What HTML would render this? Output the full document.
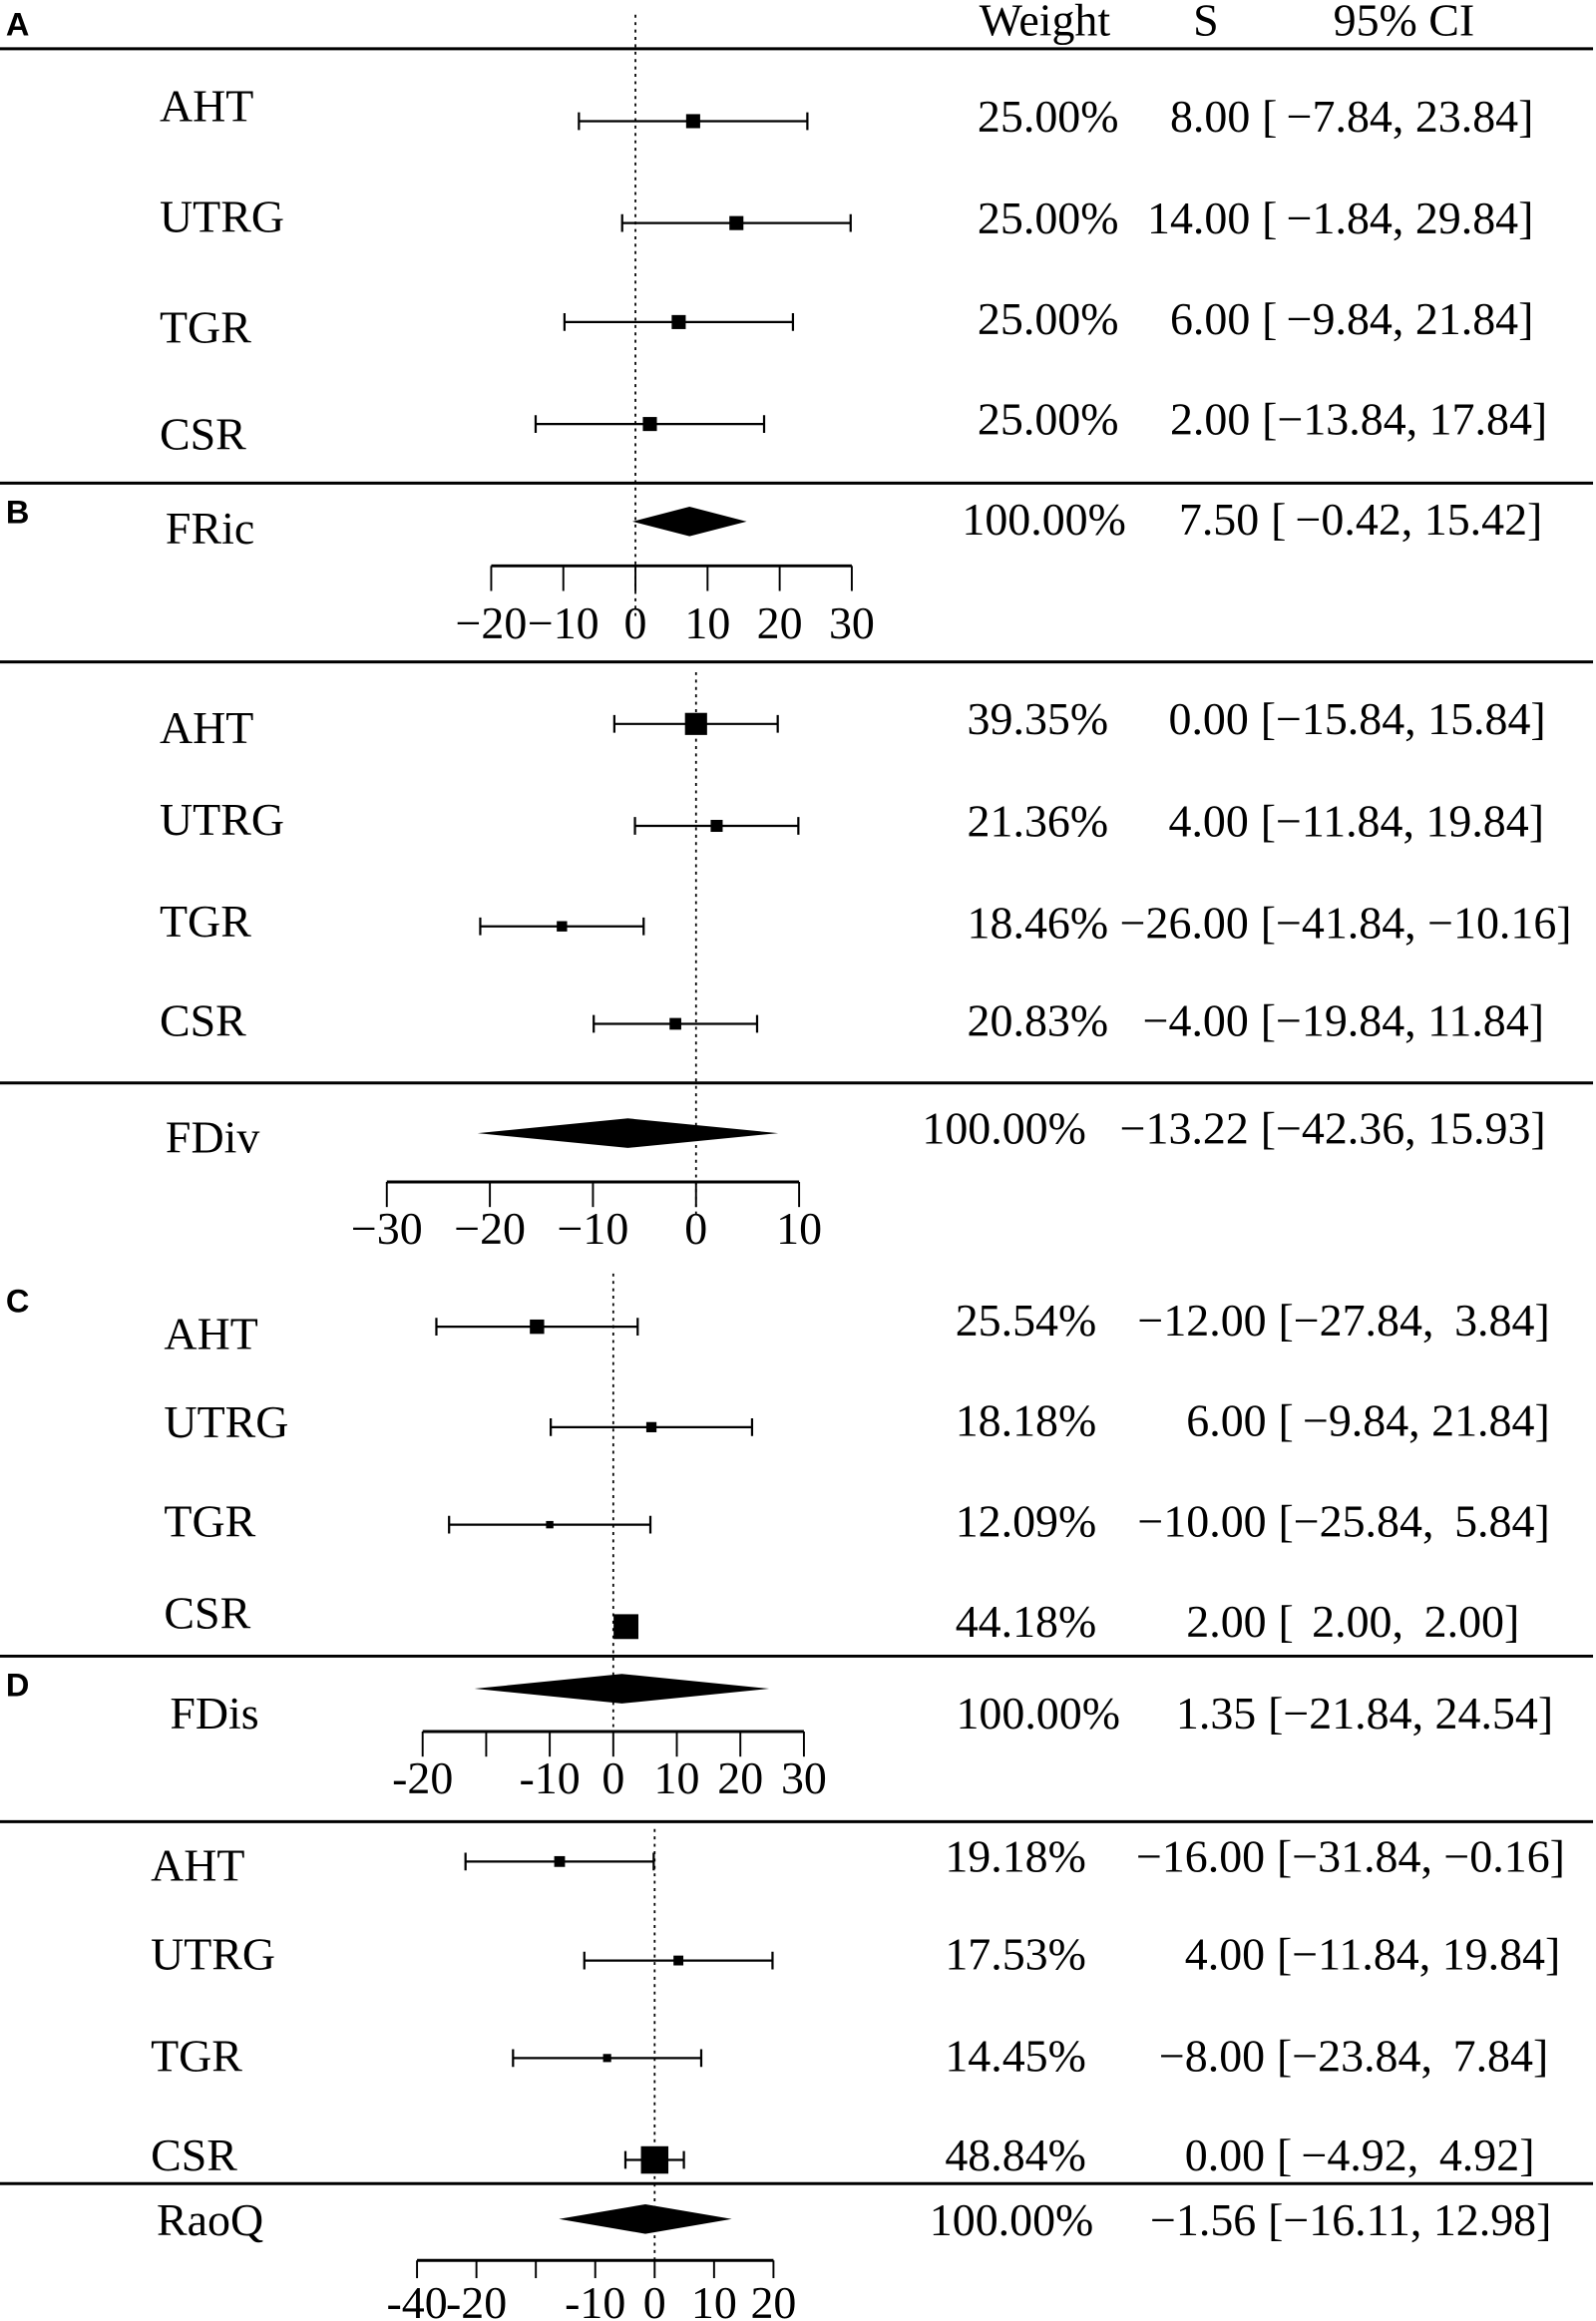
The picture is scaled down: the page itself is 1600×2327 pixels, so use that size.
<!DOCTYPE html>
<html><head><meta charset="utf-8"><style>
html,body{margin:0;padding:0;background:#fff}
svg{display:block}
text{font-family:"Liberation Serif",serif;fill:#000}
.lab{font-family:"Liberation Sans",sans-serif;font-weight:bold;font-size:22px}
</style></head><body>
<svg id="chart" width="1600" height="2327" viewBox="0 0 1080 1571" preserveAspectRatio="none" xmlns="http://www.w3.org/2000/svg">
<text x="707" y="24" font-size="31" text-anchor="middle">Weight</text>
<text x="816" y="24" font-size="31" text-anchor="middle">S</text>
<text x="950" y="24" font-size="31" text-anchor="middle">95% CI</text>
<text class="lab" x="4" y="24">A</text>
<text class="lab" x="4" y="354">B</text>
<text class="lab" x="4" y="888">C</text>
<text class="lab" x="4" y="1148">D</text>
<g id="marks"></g>
</svg>
<script>
// data
const studies = ["AHT","UTRG","TGR","CSR"];
const summaryNames = ["FRic","FDiv","FDis","RaoQ"];
const weights = [[25.00,25.00,25.00,25.00],[39.35,21.36,18.46,20.83],[25.54,18.18,12.09,44.18],[19.18,17.53,14.45,48.84]];
const estimates = [[8.00,14.00,6.00,2.00],[0.00,4.00,-26.00,-4.00],[-12.00,6.00,-10.00,2.00],[-16.00,4.00,-8.00,0.00]];
const lowers = [[-7.84,-1.84,-9.84,-13.84],[-15.84,-11.84,-41.84,-19.84],[-27.84,-9.84,-25.84,2.00],[-31.84,-11.84,-23.84,-4.92]];
const uppers = [[23.84,29.84,21.84,17.84],[15.84,19.84,-10.16,11.84],[3.84,21.84,5.84,2.00],[-0.16,19.84,7.84,4.92]];
const sumEst = [7.50,-13.22,1.35,-1.56];
const sumLo = [-0.42,-42.36,-21.84,-16.11];
const sumHi = [15.42,15.93,24.54,12.98];
const tickValues = [[-20,-10,0,10,20,30],[-30,-20,-10,0,10],[-30,-20,-10,0,10,20,30],[-40,-30,-20,-10,0,10,20]];
const tickLabels = [["\u221220","\u221210","0","10","20","30"],["\u221230","\u221220","\u221210","0","10"],["-20","","-10","0","10","20","30"],["-40","-20","","-10","0","10","20"]];

const P = [
 {zero:430, ppu:4.88, tppu:4.88, rows:[82,151,218,287], labs:[82,157,232,304], txt:[89,158,226,294], labx:108, dTop:10, dBot:420, sumY:353, sumLab:368, sumTxt:362, axY:383, tickLen:17, tickLabY:432, wx:757, sx:846, swx:762, ssx:852, sep:[33,327]},
 {zero:471, ppu:3.49, tppu:6.975, rows:[490,559,627,693], labs:[503,565,634,701], txt:[497,566,635,701], labx:108, dTop:455, dBot:822, sumY:767, sumLab:780, sumTxt:774, axY:800, tickLen:17, tickLabY:842, wx:750, sx:845, swx:735, ssx:845, sep:[448,733]},
 {zero:415, ppu:4.3, tppu:4.3, rows:[898,966,1032,1101], labs:[913,973,1040,1102], txt:[904,972,1040,1108], labx:111, dTop:862, dBot:1172, sumY:1143, sumLab:1170, sumTxt:1170, axY:1172, tickLen:17, tickLabY:1214, wx:742, sx:857, swx:758, ssx:850, sep:[1121]},
 {zero:443, ppu:4.02, tppu:4.02, rows:[1260,1327,1393,1462], labs:[1273,1333,1402,1469], txt:[1267,1333,1402,1469], labx:102, dTop:1238, dBot:1530, sumY:1502, sumLab:1513, sumTxt:1513, axY:1530, tickLen:12, tickLabY:1569, wx:735, sx:856, swx:740, ssx:850, sep:[1233,1478]}
];
const NS="http://www.w3.org/2000/svg";
const g=document.getElementById('marks');
function mk(tag,attrs,parent){const e=document.createElementNS(NS,tag);for(const k in attrs)e.setAttribute(k,attrs[k]);(parent||g).appendChild(e);return e;}
function fmt(v){let s=Math.abs(v).toFixed(2);return (v<0?"\u2212":"")+s;}
function pad(s,n){while(s.length<n)s="\u2009"+s;return s;}
function ciText(lo,hi){return "["+pad(fmt(lo),6)+", "+pad(fmt(hi),5)+"]";}
const FS=31;

P.forEach((p,pi)=>{
  const x=v=>p.zero+v*p.ppu;
  const xt=v=>p.zero+v*p.tppu;
  p.sep.forEach(y=>{
    const l=mk('line',{x1:0,x2:1078,y1:y,y2:y,stroke:'#000','stroke-width':2});
    
    
  });
  const d=mk('line',{x1:x(0),x2:x(0),y1:p.dTop,y2:p.dBot,stroke:'#000','stroke-width':1.2,'stroke-dasharray':'2,3'});
  
  
  studies.forEach((s,i)=>{
    const y=p.rows[i];
    const grp=mk('g',{});
    
    
    const t=mk('text',{x:p.labx,y:p.labs[i],'font-size':FS},grp);t.textContent=s;
    
    
    const lo=x(lowers[pi][i]),hi=x(uppers[pi][i]);
    const ci=mk('path',{d:`M${lo},${y}H${hi}M${lo},${y-6}V${y+6}M${hi},${y-6}V${y+6}`,stroke:'#000','stroke-width':1.5,fill:'none'},grp);
    
    
    const sz=Math.max(5,weights[pi][i]*0.38);
    const b=mk('rect',{x:x(estimates[pi][i])-sz/2,y:y-sz/2,width:sz,height:sz,fill:'#000'},grp);
    
    
    const w=mk('text',{x:p.wx,y:p.txt[i],'font-size':FS,'text-anchor':'end'},grp);w.textContent=weights[pi][i].toFixed(2)+"%";
    
    
    const e=mk('text',{x:p.sx,y:p.txt[i],'font-size':FS,'text-anchor':'end'},grp);e.textContent=fmt(estimates[pi][i]);
    
    
    const c=mk('text',{x:p.sx+8,y:p.txt[i],'font-size':FS},grp);c.textContent=ciText(lowers[pi][i],uppers[pi][i]);
    c.style.whiteSpace='pre';
    
    
  });
  const sg=mk('g',{});
  
  
  const sl=mk('text',{x:p.labx+4,y:p.sumLab,'font-size':FS},sg);sl.textContent=summaryNames[pi];
  
  
  const y=p.sumY;
  const dm=mk('polygon',{points:`${x(sumLo[pi])},${y} ${x(sumEst[pi])},${y-10} ${x(sumHi[pi])},${y} ${x(sumEst[pi])},${y+10}`,fill:'#000'},sg);
  
  
  const sw=mk('text',{x:p.swx,y:p.sumTxt,'font-size':FS,'text-anchor':'end'},sg);sw.textContent="100.00%";
  
  
  const se=mk('text',{x:p.ssx,y:p.sumTxt,'font-size':FS,'text-anchor':'end'},sg);se.textContent=fmt(sumEst[pi]);
  
  
  const sc=mk('text',{x:p.ssx+8,y:p.sumTxt,'font-size':FS},sg);sc.textContent=ciText(sumLo[pi],sumHi[pi]);
  sc.style.whiteSpace='pre';
  
  
  const ag=mk('g',{});
  
  
  const tv=tickValues[pi];
  const al=mk('line',{x1:xt(tv[0]),x2:xt(tv[tv.length-1]),y1:p.axY,y2:p.axY,stroke:'#000','stroke-width':2},ag);
  
  
  tv.forEach((v,k)=>{
    const tk=mk('line',{x1:xt(v),x2:xt(v),y1:p.axY,y2:p.axY+p.tickLen,stroke:'#000','stroke-width':1.3},ag);
    
    
    const tl=mk('text',{x:xt(v),y:p.tickLabY,'font-size':FS,'text-anchor':'middle'},ag);tl.textContent=tickLabels[pi][k];
    
    
  });
});
</script>
</body></html>
